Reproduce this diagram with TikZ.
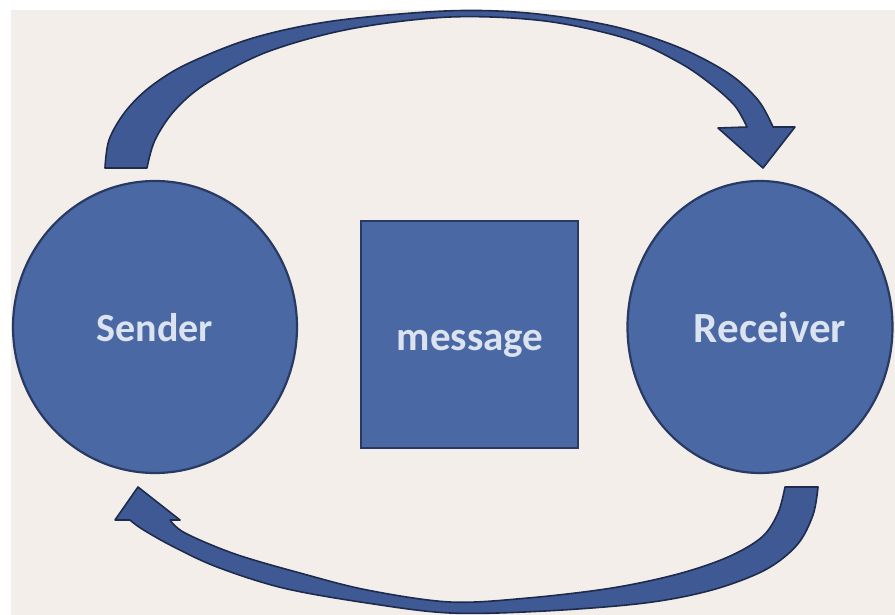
\documentclass[tikz,border=0pt]{standalone}
\usepackage{fontspec}
\setmainfont{Carlito}
\usetikzlibrary{shapes.geometric}
\definecolor{bgc}{HTML}{F3EEEA}
\definecolor{shapefill}{HTML}{4A69A4}
\definecolor{shapeline}{HTML}{283A62}
\definecolor{arrfill}{HTML}{3E5994}
\definecolor{arrline}{HTML}{1F2B4D}
\definecolor{txt}{HTML}{DCE3F0}
\begin{document}
\begin{tikzpicture}[x=1pt,y=-1pt,
  shapebox/.style={fill=shapefill,draw=shapeline,line width=2.2pt,inner sep=0pt},
  lbl/.style={text=txt,font=\bfseries\fontsize{40}{48}\selectfont,inner sep=0pt},
  bandarrow/.style={fill=arrfill,draw=arrline,line width=1.6pt,line join=round}]
\useasboundingbox (0,0) rectangle (895,615);
\fill[white] (0,0) rectangle (895,615);
\fill[bgc] (11,10) rectangle (895,615);

% shapes
\node[shapebox,ellipse,minimum width=284pt,minimum height=292pt] (sender) at (155,327) {};
\node[shapebox,ellipse,minimum width=265pt,minimum height=292pt] (receiver) at (760,327) {};
\node[shapebox,rectangle,minimum width=217pt,minimum height=227pt] (message) at (469.5,334.5) {};

% labels
\node[lbl,anchor=base] (sendertext) at (155,341) {Sender};
\node[lbl,anchor=base,font=\bfseries\fontsize{43}{50}\selectfont] (receivertext) at (770,342) {Receiver};
\node[lbl,anchor=base,font=\bfseries\fontsize{41}{48}\selectfont] (messagetext) at (470,350) {message};

% top curved arrow: sender -> receiver
\filldraw[bandarrow]
  plot[smooth,tension=0.55] coordinates {(105,168) (109,140) (125,112) (150,87) (187,64) (253,38) (333,21) (445,11) (528,13) (612,26) (678,47) (728,73) (758,100) (773,127)}
  -- (795,127) -- (763,168) -- (718,128) -- (747,127)
  -- plot[smooth,tension=0.55] coordinates {(747,127) (735,106) (712,85) (680,63) (628,39) (545,21) (450,17) (350,29) (267,52) (207,83) (175,110) (155,140) (147,168)}
  -- cycle;

% bottom curved arrow: receiver -> sender
\filldraw[bandarrow]
  plot[smooth,tension=0.55] coordinates {(818,487) (813,515) (797,545) (765,570) (712,590) (645,603) (545,611) (450,613) (367,603) (283,588) (217,567) (172,546) (142,529) (130,520)}
  -- (115,520) -- (138,487) -- (180,520) -- (170,520)
  -- plot[smooth,tension=0.55] coordinates {(170,520) (185,533) (235,554) (300,573) (367,590) (450,602) (528,598) (612,588) (678,574) (728,557) (762,537) (778,513) (785,487)}
  -- cycle;
\end{tikzpicture}
\end{document}
